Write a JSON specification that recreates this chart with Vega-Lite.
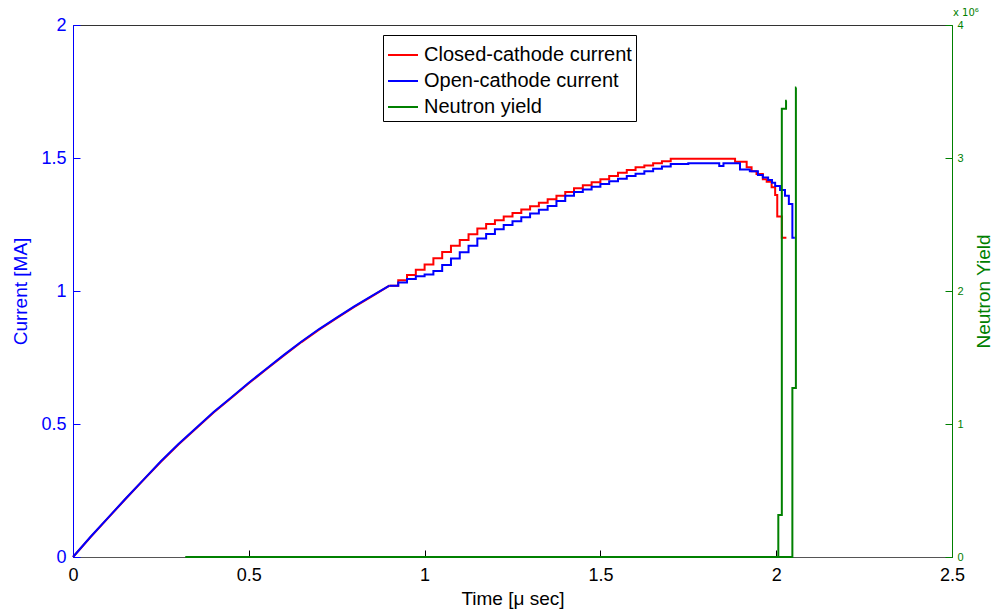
{
  "$schema": "https://vega.github.io/schema/vega-lite/v6.json",
  "width": 879,
  "height": 532,
  "autosize": {"type": "none"},
  "padding": {"left": 73, "top": 25, "right": 43, "bottom": 58},
  "background": "white",
  "config": {
    "font": "Liberation Sans",
    "view": {"stroke": "#333333", "strokeWidth": 1},
    "axis": {"grid": false, "titleFontWeight": "normal", "labelFontSize": 18, "titleFontSize": 19, "labelFlush": false, "labelOverlap": false, "tickSize": -7, "labelPadding": 14, "format": "~g"}
  },
  "datasets": {
    "cur": [
      {"series": "Closed-cathode current", "t": 0, "v": 0},
      {"series": "Closed-cathode current", "t": 0.05, "v": 0.075},
      {"series": "Closed-cathode current", "t": 0.1, "v": 0.147},
      {"series": "Closed-cathode current", "t": 0.15, "v": 0.219},
      {"series": "Closed-cathode current", "t": 0.2, "v": 0.289},
      {"series": "Closed-cathode current", "t": 0.25, "v": 0.358},
      {"series": "Closed-cathode current", "t": 0.3, "v": 0.423},
      {"series": "Closed-cathode current", "t": 0.35, "v": 0.483},
      {"series": "Closed-cathode current", "t": 0.4, "v": 0.543},
      {"series": "Closed-cathode current", "t": 0.45, "v": 0.598},
      {"series": "Closed-cathode current", "t": 0.5, "v": 0.653},
      {"series": "Closed-cathode current", "t": 0.55, "v": 0.706},
      {"series": "Closed-cathode current", "t": 0.6, "v": 0.758},
      {"series": "Closed-cathode current", "t": 0.65, "v": 0.808},
      {"series": "Closed-cathode current", "t": 0.7, "v": 0.855},
      {"series": "Closed-cathode current", "t": 0.75, "v": 0.898},
      {"series": "Closed-cathode current", "t": 0.8, "v": 0.94},
      {"series": "Closed-cathode current", "t": 0.85, "v": 0.98},
      {"series": "Closed-cathode current", "t": 0.9, "v": 1.02},
      {"series": "Closed-cathode current", "t": 0.925, "v": 1.04},
      {"series": "Closed-cathode current", "t": 0.95, "v": 1.06},
      {"series": "Closed-cathode current", "t": 0.975, "v": 1.08},
      {"series": "Closed-cathode current", "t": 1.0, "v": 1.1},
      {"series": "Closed-cathode current", "t": 1.025, "v": 1.123},
      {"series": "Closed-cathode current", "t": 1.05, "v": 1.147},
      {"series": "Closed-cathode current", "t": 1.075, "v": 1.17},
      {"series": "Closed-cathode current", "t": 1.1, "v": 1.192},
      {"series": "Closed-cathode current", "t": 1.125, "v": 1.213},
      {"series": "Closed-cathode current", "t": 1.15, "v": 1.235},
      {"series": "Closed-cathode current", "t": 1.175, "v": 1.252},
      {"series": "Closed-cathode current", "t": 1.2, "v": 1.266},
      {"series": "Closed-cathode current", "t": 1.225, "v": 1.28},
      {"series": "Closed-cathode current", "t": 1.25, "v": 1.293},
      {"series": "Closed-cathode current", "t": 1.275, "v": 1.306},
      {"series": "Closed-cathode current", "t": 1.3, "v": 1.319},
      {"series": "Closed-cathode current", "t": 1.325, "v": 1.332},
      {"series": "Closed-cathode current", "t": 1.35, "v": 1.345},
      {"series": "Closed-cathode current", "t": 1.375, "v": 1.358},
      {"series": "Closed-cathode current", "t": 1.4, "v": 1.372},
      {"series": "Closed-cathode current", "t": 1.425, "v": 1.386},
      {"series": "Closed-cathode current", "t": 1.45, "v": 1.398},
      {"series": "Closed-cathode current", "t": 1.475, "v": 1.409},
      {"series": "Closed-cathode current", "t": 1.5, "v": 1.42},
      {"series": "Closed-cathode current", "t": 1.525, "v": 1.432},
      {"series": "Closed-cathode current", "t": 1.55, "v": 1.445},
      {"series": "Closed-cathode current", "t": 1.575, "v": 1.455},
      {"series": "Closed-cathode current", "t": 1.6, "v": 1.465},
      {"series": "Closed-cathode current", "t": 1.625, "v": 1.472},
      {"series": "Closed-cathode current", "t": 1.65, "v": 1.48},
      {"series": "Closed-cathode current", "t": 1.675, "v": 1.488},
      {"series": "Closed-cathode current", "t": 1.7, "v": 1.497},
      {"series": "Closed-cathode current", "t": 1.883, "v": 1.486},
      {"series": "Closed-cathode current", "t": 1.916, "v": 1.465},
      {"series": "Closed-cathode current", "t": 1.93, "v": 1.45},
      {"series": "Closed-cathode current", "t": 1.944, "v": 1.44},
      {"series": "Closed-cathode current", "t": 1.962, "v": 1.42},
      {"series": "Closed-cathode current", "t": 1.973, "v": 1.411},
      {"series": "Closed-cathode current", "t": 1.987, "v": 1.39},
      {"series": "Closed-cathode current", "t": 1.997, "v": 1.361},
      {"series": "Closed-cathode current", "t": 2.003, "v": 1.28},
      {"series": "Closed-cathode current", "t": 2.016, "v": 1.2},
      {"series": "Closed-cathode current", "t": 2.029, "v": 1.2},
      {"series": "Open-cathode current", "t": 0, "v": 0},
      {"series": "Open-cathode current", "t": 0.05, "v": 0.076},
      {"series": "Open-cathode current", "t": 0.1, "v": 0.148},
      {"series": "Open-cathode current", "t": 0.15, "v": 0.22},
      {"series": "Open-cathode current", "t": 0.2, "v": 0.29},
      {"series": "Open-cathode current", "t": 0.25, "v": 0.36},
      {"series": "Open-cathode current", "t": 0.3, "v": 0.425},
      {"series": "Open-cathode current", "t": 0.35, "v": 0.485},
      {"series": "Open-cathode current", "t": 0.4, "v": 0.545},
      {"series": "Open-cathode current", "t": 0.45, "v": 0.6},
      {"series": "Open-cathode current", "t": 0.5, "v": 0.655},
      {"series": "Open-cathode current", "t": 0.55, "v": 0.708},
      {"series": "Open-cathode current", "t": 0.6, "v": 0.76},
      {"series": "Open-cathode current", "t": 0.65, "v": 0.81},
      {"series": "Open-cathode current", "t": 0.7, "v": 0.857},
      {"series": "Open-cathode current", "t": 0.75, "v": 0.9},
      {"series": "Open-cathode current", "t": 0.8, "v": 0.942},
      {"series": "Open-cathode current", "t": 0.85, "v": 0.982},
      {"series": "Open-cathode current", "t": 0.9, "v": 1.02},
      {"series": "Open-cathode current", "t": 0.925, "v": 1.032},
      {"series": "Open-cathode current", "t": 0.95, "v": 1.045},
      {"series": "Open-cathode current", "t": 0.975, "v": 1.055},
      {"series": "Open-cathode current", "t": 1.0, "v": 1.062},
      {"series": "Open-cathode current", "t": 1.025, "v": 1.075},
      {"series": "Open-cathode current", "t": 1.05, "v": 1.098},
      {"series": "Open-cathode current", "t": 1.075, "v": 1.122},
      {"series": "Open-cathode current", "t": 1.1, "v": 1.146},
      {"series": "Open-cathode current", "t": 1.125, "v": 1.17},
      {"series": "Open-cathode current", "t": 1.15, "v": 1.197},
      {"series": "Open-cathode current", "t": 1.175, "v": 1.214},
      {"series": "Open-cathode current", "t": 1.2, "v": 1.232},
      {"series": "Open-cathode current", "t": 1.225, "v": 1.248},
      {"series": "Open-cathode current", "t": 1.25, "v": 1.262},
      {"series": "Open-cathode current", "t": 1.275, "v": 1.277},
      {"series": "Open-cathode current", "t": 1.3, "v": 1.291},
      {"series": "Open-cathode current", "t": 1.325, "v": 1.305},
      {"series": "Open-cathode current", "t": 1.35, "v": 1.32},
      {"series": "Open-cathode current", "t": 1.375, "v": 1.338},
      {"series": "Open-cathode current", "t": 1.4, "v": 1.358},
      {"series": "Open-cathode current", "t": 1.425, "v": 1.372},
      {"series": "Open-cathode current", "t": 1.45, "v": 1.382},
      {"series": "Open-cathode current", "t": 1.475, "v": 1.392},
      {"series": "Open-cathode current", "t": 1.5, "v": 1.402},
      {"series": "Open-cathode current", "t": 1.525, "v": 1.413},
      {"series": "Open-cathode current", "t": 1.55, "v": 1.422},
      {"series": "Open-cathode current", "t": 1.575, "v": 1.432},
      {"series": "Open-cathode current", "t": 1.6, "v": 1.441},
      {"series": "Open-cathode current", "t": 1.625, "v": 1.45},
      {"series": "Open-cathode current", "t": 1.65, "v": 1.46},
      {"series": "Open-cathode current", "t": 1.675, "v": 1.468},
      {"series": "Open-cathode current", "t": 1.7, "v": 1.477},
      {"series": "Open-cathode current", "t": 1.75, "v": 1.48},
      {"series": "Open-cathode current", "t": 1.838, "v": 1.47},
      {"series": "Open-cathode current", "t": 1.85, "v": 1.48},
      {"series": "Open-cathode current", "t": 1.897, "v": 1.457},
      {"series": "Open-cathode current", "t": 1.925, "v": 1.45},
      {"series": "Open-cathode current", "t": 1.948, "v": 1.436},
      {"series": "Open-cathode current", "t": 1.962, "v": 1.427},
      {"series": "Open-cathode current", "t": 1.977, "v": 1.417},
      {"series": "Open-cathode current", "t": 1.988, "v": 1.407},
      {"series": "Open-cathode current", "t": 1.997, "v": 1.395},
      {"series": "Open-cathode current", "t": 2.011, "v": 1.38},
      {"series": "Open-cathode current", "t": 2.025, "v": 1.358},
      {"series": "Open-cathode current", "t": 2.036, "v": 1.327},
      {"series": "Open-cathode current", "t": 2.046, "v": 1.2},
      {"series": "Open-cathode current", "t": 2.053, "v": 1.2}
    ],
    "neu": [
      {"series": "Neutron yield", "run": "a", "t": 0.32, "n": 0},
      {"series": "Neutron yield", "run": "a", "t": 2.006, "n": 316000},
      {"series": "Neutron yield", "run": "a", "t": 2.016, "n": 3370000},
      {"series": "Neutron yield", "run": "a", "t": 2.028, "n": 3430000},
      {"series": "Neutron yield", "run": "a", "t": 2.03, "n": 3430000},
      {"series": "Neutron yield", "run": "b", "t": 0.32, "n": 0},
      {"series": "Neutron yield", "run": "b", "t": 2.046, "n": 1270000},
      {"series": "Neutron yield", "run": "b", "t": 2.056, "n": 3530000},
      {"series": "Neutron yield", "run": "b", "t": 2.057, "n": 3530000}
    ]
  },
  "layer": [
    {
      "layer": [
        {
          "data": {"name": "cur"},
          "transform": [{"filter": "datum.t <= 0.9"}],
          "mark": {"type": "line", "strokeWidth": 2, "interpolate": "linear"},
          "encoding": {
            "x": {"field": "t", "type": "quantitative", "scale": {"domain": [0, 2.5], "nice": false},
              "axis": {"title": "Time [μ sec]", "values": [0, 0.5, 1, 1.5, 2, 2.5], "labelColor": "#000000", "titleColor": "#000000", "tickColor": "#000000", "domainColor": "#555555", "labelPadding": 16, "titlePadding": 5}},
            "y": {"field": "v", "type": "quantitative", "scale": {"domain": [0, 2], "nice": false},
              "axis": {"title": "Current [MA]", "values": [0, 0.5, 1, 1.5, 2], "labelColor": "#0000ff", "titleColor": "#0000ff", "tickColor": "#0000ff", "domainColor": "#0000ff", "titlePadding": 10}},
            "color": {"field": "series", "type": "nominal",
              "scale": {"domain": ["Closed-cathode current", "Open-cathode current", "Neutron yield"], "range": ["#ff0000", "#0000ff", "#008000"]},
              "legend": {"title": null, "orient": "none", "legendX": 310, "legendY": 10, "strokeColor": "#000000", "fillColor": "#ffffff", "padding": 4, "labelFontSize": 20, "labelColor": "#000000", "labelLimit": 400, "symbolType": "stroke", "symbolStrokeWidth": 2, "symbolSize": 900, "rowPadding": 0, "labelOffset": 5}}
          }
        },
        {
          "data": {"name": "cur"},
          "transform": [{"filter": "datum.t >= 0.9"}],
          "mark": {"type": "line", "strokeWidth": 2, "interpolate": "step-after"},
          "encoding": {
            "x": {"field": "t", "type": "quantitative"},
            "y": {"field": "v", "type": "quantitative"},
            "color": {"field": "series", "type": "nominal"}
          }
        }
      ]
    },
    {
      "layer": [
        {
          "data": {"name": "neu"},
          "mark": {"type": "line", "strokeWidth": 2, "interpolate": "step-after"},
          "encoding": {
            "x": {"field": "t", "type": "quantitative"},
            "y": {"field": "n", "type": "quantitative", "scale": {"domain": [0, 4000000], "nice": false},
              "axis": {"orient": "right", "title": "Neutron Yield", "titleAngle": 270, "values": [0, 1000000, 2000000, 3000000, 4000000], "labelExpr": "format(datum.value / 1000000, 'd')", "labelFontSize": 11, "labelPadding": 12, "labelColor": "#008000", "titleColor": "#008000", "tickColor": "#008000", "domainColor": "#008000", "titlePadding": 30}},
            "color": {"field": "series", "type": "nominal"},
            "detail": {"field": "run", "type": "nominal"}
          }
        },
        {
          "data": {"values": [{"label": "x 10⁶"}]},
          "mark": {"type": "text", "align": "left", "baseline": "bottom", "dx": 1, "dy": -7, "fontSize": 10, "font": "DejaVu Sans", "color": "#008000"},
          "encoding": {
            "x": {"datum": 2.5, "type": "quantitative"},
            "y": {"datum": 4000000, "type": "quantitative"},
            "text": {"field": "label", "type": "nominal"}
          }
        }
      ]
    }
  ],
  "resolve": {"scale": {"y": "independent"}}
}
